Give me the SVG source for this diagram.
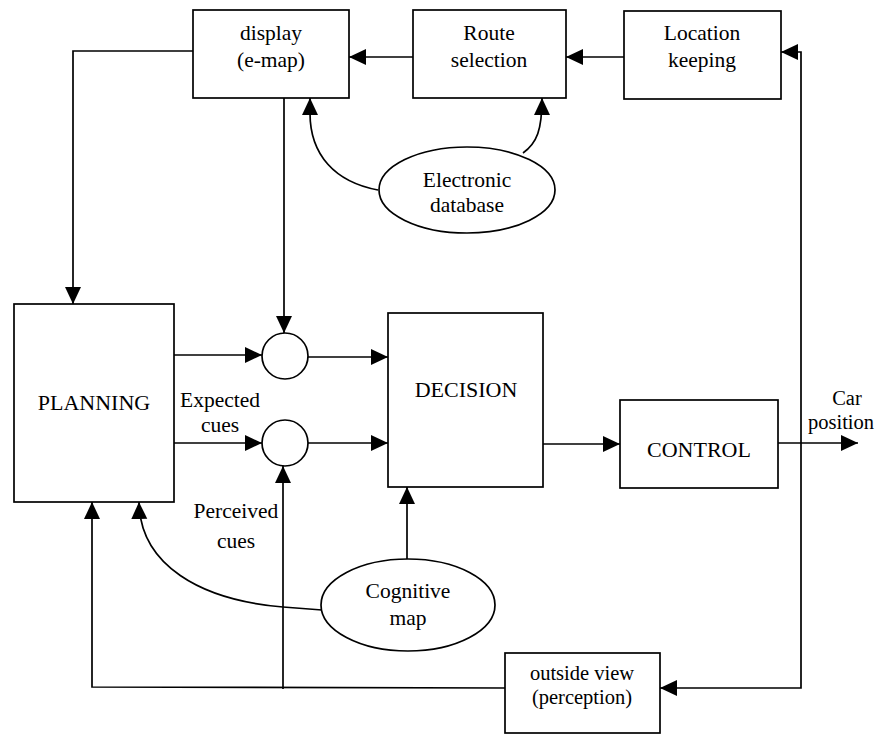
<svg xmlns="http://www.w3.org/2000/svg" width="885" height="735" viewBox="0 0 885 735">
<defs>
<marker id="ah" markerUnits="userSpaceOnUse" markerWidth="18" markerHeight="18" refX="17" refY="8" orient="auto">
<path d="M0,0 L17,8 L0,16 z" fill="#000"/>
</marker>
<style>
.box{fill:#fff;stroke:#000;stroke-width:1.7}
.ln{fill:none;stroke:#000;stroke-width:1.7}
.ar{marker-end:url(#ah)}
text{font-family:"Liberation Serif","Times New Roman",serif;font-size:21.5px;fill:#000;text-anchor:middle}
.big{font-size:22px}
.sm{font-size:20.5px}
</style>
</defs>
<rect width="885" height="735" fill="#fff"/>
<g id="connectors">
<path class="ln ar" d="M624,57 L566,57"/>
<path class="ln ar" d="M413,57 L349,57"/>
<path class="ln ar" d="M193,51 L73,51 L73,304"/>
<path class="ln ar" d="M284,98 L284,333"/>
<path class="ln ar" d="M378,190 C335,182 310,155 310,113 L310,98"/>
<path class="ln ar" d="M523,153 C537,143 542,130 542,98"/>
<path class="ln ar" d="M174,355 L262,355"/>
<path class="ln ar" d="M174,443 L262,443"/>
<path class="ln ar" d="M308,357 L388,357"/>
<path class="ln ar" d="M308,443 L388,443"/>
<path class="ln ar" d="M543,444 L620,444"/>
<path class="ln ar" d="M778,443 L858,443"/>
<path class="ln ar" d="M801,443 L801,52 L781,52"/>
<path class="ln ar" d="M801,443 L801,688 L660,688"/>
<path class="ln ar" d="M505,688 L92,687 L92,502"/>
<path class="ln ar" d="M283,689 L283,466"/>
<path class="ln ar" d="M407,559 L407,487"/>
<path class="ln ar" d="M322,610 L283,607 C200,600 140,565 139,502"/>
</g>
<g id="display">
<rect class="box" x="193" y="10" width="156" height="88"/>
<text x="271" y="40">display</text>
<text x="271" y="67">(e-map)</text>
</g>
<g id="route">
<rect class="box" x="413" y="10" width="153" height="88"/>
<text x="489" y="40">Route</text>
<text x="489" y="67">selection</text>
</g>
<g id="location">
<rect class="box" x="624" y="11" width="157" height="88"/>
<text x="702" y="40">Location</text>
<text x="702" y="67">keeping</text>
</g>
<g id="database">
<ellipse class="box" cx="467" cy="190" rx="88" ry="43"/>
<text x="467" y="187">Electronic</text>
<text x="467" y="212">database</text>
</g>
<g id="planning">
<rect class="box" x="14" y="304" width="160" height="198"/>
<text class="big" x="94" y="410">PLANNING</text>
</g>
<g id="sum1">
<circle class="box" cx="285" cy="356" r="23"/>
</g>
<g id="sum2">
<circle class="box" cx="285" cy="443" r="23"/>
</g>
<g id="decision">
<rect class="box" x="388" y="313" width="155" height="174"/>
<text class="big" x="466" y="397">DECISION</text>
</g>
<g id="control">
<rect class="box" x="620" y="400" width="158" height="88"/>
<text class="big" x="699" y="457">CONTROL</text>
</g>
<g id="cognitive">
<ellipse class="box" cx="408" cy="605" rx="87" ry="46"/>
<text x="408" y="598">Cognitive</text>
<text x="408" y="625">map</text>
</g>
<g id="outside">
<rect class="box" x="505" y="653" width="155" height="80"/>
<text class="sm" x="582" y="680">outside view</text>
<text class="sm" x="582" y="704">(perception)</text>
</g>
<g id="labels">
<text x="220" y="407">Expected</text>
<text x="220" y="432">cues</text>
<text x="236" y="518">Perceived</text>
<text x="236" y="548">cues</text>
<text class="sm" x="847" y="405">Car</text>
<text class="sm" x="841" y="429">position</text>
</g>
</svg>
